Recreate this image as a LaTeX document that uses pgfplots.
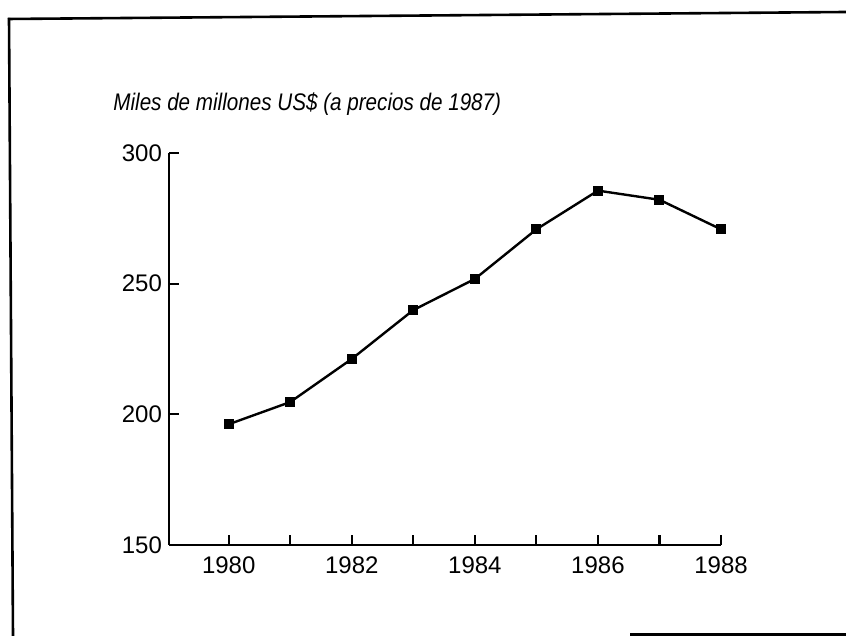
\documentclass[border=0pt]{standalone}
\usepackage{fontspec}
\setmainfont{Liberation Sans}
\newfontfamily\titlefont[FakeStretch=0.86]{Liberation Sans}
\usepackage{pgfplots}
\pgfplotsset{compat=1.18}
\begin{document}
\begin{tikzpicture}[x=1pt,y=1pt]
\useasboundingbox (0,0) rectangle (423,318);
% frame
\draw[line width=1.3pt] (4,308.5) -- (423,312);
\draw[line width=1.3pt] (4.5,309) -- (6.5,0);
\draw[line width=1.3pt] (315,0.6) -- (423,0.6);
% title
\node[anchor=base west, inner sep=0pt] at (56.5,262.5) {\titlefont\fontsize{12}{14}\selectfont\itshape Miles de millones US\$ (a precios de 1987)};
\begin{axis}[
  at={(84.5pt,45.5pt)}, anchor=south west,
  scale only axis, width=276pt, height=196pt,
  xmin=1979.03, xmax=1988, ymin=150, ymax=300,
  axis x line*=bottom, axis y line*=left,
  axis line style={line width=1.3pt},
  xtick align=inside, ytick align=inside,
  major tick length=5pt,
  tick style={line width=1.1pt, black},
  xtick={1980,1981,1982,1983,1984,1985,1986,1987,1988},
  xticklabels={1980,,1982,,1984,,1986,,1988},
  ytick={150,200,250,300},
  yticklabels={150,200,250,300},
  ticklabel style={font=\fontsize{12}{14}\selectfont},
  xticklabel style={yshift=-2.5pt},
  clip=false,
]
\addplot[black, line width=1.2pt, mark=square*, mark size=1.9pt] coordinates {
  (1980,196.2) (1981,204.7) (1982,221.2) (1983,239.9) (1984,251.8)
  (1985,270.8) (1986,285.6) (1987,282.1) (1988,270.8)
};
\end{axis}
\end{tikzpicture}
\end{document}
